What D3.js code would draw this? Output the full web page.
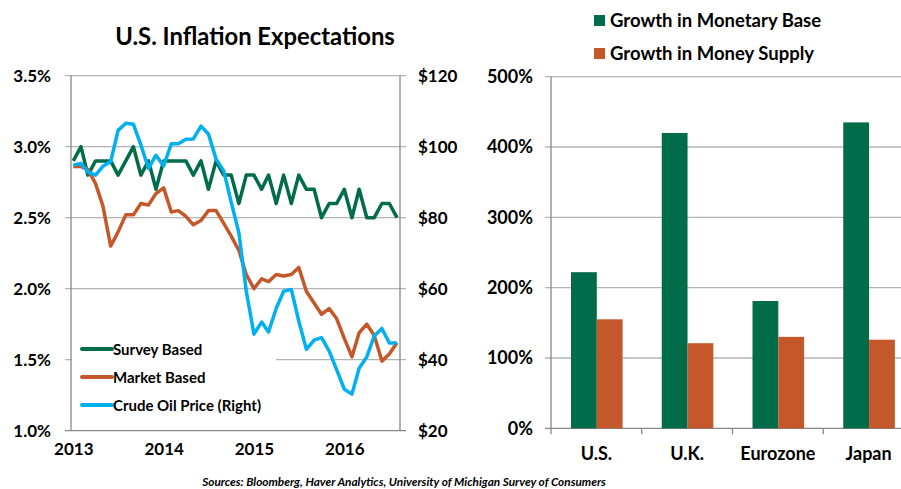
<!DOCTYPE html>
<html>
<head>
<meta charset="utf-8">
<script src="https://cdn.jsdelivr.net/npm/d3@7"></script>
<style>
  body { margin: 0; background: #fff; }
  svg { display: block; font-family: Lato, "Open Sans", sans-serif; font-weight: 700; }
</style>
</head>
<body>
<div id="chart"></div>
<script>
// monthly, Jan 2013 .. Aug 2016
var months = d3.timeMonth.range(new Date(2013, 0, 1), new Date(2016, 8, 1));

var surveyBased = [2.9, 3.0, 2.8, 2.9, 2.9, 2.9, 2.8, 2.9, 3.0, 2.8, 2.9, 2.7,
                   2.9, 2.9, 2.9, 2.9, 2.8, 2.9, 2.7, 2.9, 2.8, 2.8, 2.6, 2.8,
                   2.8, 2.7, 2.8, 2.6, 2.8, 2.6, 2.8, 2.7, 2.7, 2.5, 2.6, 2.6,
                   2.7, 2.5, 2.7, 2.5, 2.5, 2.6, 2.6, 2.5];

var marketBased = [2.86, 2.86, 2.84, 2.74, 2.58, 2.30, 2.40, 2.52, 2.52, 2.60, 2.59, 2.67,
                   2.71, 2.54, 2.55, 2.51, 2.45, 2.48, 2.55, 2.55, 2.46, 2.37, 2.27, 2.10,
                   2.00, 2.07, 2.05, 2.10, 2.09, 2.10, 2.15, 1.98, 1.90, 1.82, 1.86, 1.79,
                   1.65, 1.52, 1.69, 1.75, 1.67, 1.49, 1.54, 1.62];

var crudeOil = [94.8, 95.3, 92.9, 92.0, 94.5, 95.8, 104.6, 106.6, 106.3, 100.5, 93.9, 97.6,
                94.6, 100.8, 100.8, 102.1, 102.2, 105.8, 103.6, 96.5, 93.2, 84.4, 75.8, 59.3,
                47.2, 50.6, 47.8, 54.5, 59.3, 59.8, 50.9, 42.9, 45.5, 46.2, 42.4, 37.2,
                31.7, 30.3, 37.6, 40.8, 46.7, 48.8, 44.7, 44.7];

var leftTicks = [1.0, 1.5, 2.0, 2.5, 3.0, 3.5];
var rightTicks = [20, 40, 60, 80, 100, 120];
var yearTicks = [new Date(2013, 0, 1), new Date(2014, 0, 1), new Date(2015, 0, 1), new Date(2016, 0, 1)];

var countries = ["U.S.", "U.K.", "Eurozone", "Japan"];
var monetaryBase = [222, 420, 181, 435];
var moneySupply = [155, 121, 130, 126];
var barTicks = [0, 100, 200, 300, 400, 500];

var green = "#006C49", orange = "#C5582A", blue = "#00B0F0";
var gridColor = "#b4b4b4", axisColor = "#878787";

var svg = d3.select("#chart").append("svg").attr("width", 901).attr("height", 489);

// ---------- left chart ----------
var plotL = {left: 71, right: 400, top: 75.7, bottom: 430.7};

var x = d3.scaleTime()
    .domain([months[0], months[months.length - 1]])
    .range([73.3, 397]);
var yL = d3.scaleLinear().domain([1.0, 3.5]).range([plotL.bottom, plotL.top]);
var yR = d3.scaleLinear().domain([20, 120]).range([plotL.bottom, plotL.top]);

var left = svg.append("g");

left.append("text")
    .attr("x", 255).attr("y", 45)
    .attr("text-anchor", "middle")
    .style("font-size", "23.8px")
    .text("U.S. Inflation Expectations");

// gridlines
left.selectAll(".grid").data(leftTicks).enter().append("line")
    .attr("x1", plotL.left - 6).attr("x2", plotL.right + 6)
    .attr("y1", function(d) { return yL(d); })
    .attr("y2", function(d) { return yL(d); })
    .attr("stroke", function(d) { return d == 1.0 ? axisColor : gridColor; })
    .attr("stroke-width", 1.3);

left.append("line")
    .attr("x1", plotL.left).attr("x2", plotL.left)
    .attr("y1", plotL.top).attr("y2", plotL.bottom)
    .attr("stroke", axisColor).attr("stroke-width", 1.3);
left.append("line")
    .attr("x1", plotL.right).attr("x2", plotL.right)
    .attr("y1", plotL.top).attr("y2", plotL.bottom)
    .attr("stroke", axisColor).attr("stroke-width", 1.3);

// axis labels
var axisL = left.append("g")
    .attr("transform", "translate(" + (plotL.left - 6) + ",0)")
    .call(d3.axisLeft(yL).tickValues(leftTicks).tickSize(0).tickPadding(14)
        .tickFormat(function(d) { return d.toFixed(1) + "%"; }));
var axisR = left.append("g")
    .attr("transform", "translate(" + (plotL.right + 6) + ",0)")
    .call(d3.axisRight(yR).tickValues(rightTicks).tickSize(0).tickPadding(12)
        .tickFormat(function(d) { return "$" + d; }));
var axisX = left.append("g")
    .attr("transform", "translate(0," + plotL.bottom + ")")
    .call(d3.axisBottom(x).tickValues(yearTicks).tickSize(0).tickPadding(12)
        .tickFormat(d3.timeFormat("%Y")));

[axisL, axisR, axisX].forEach(function(a) {
  a.select(".domain").remove();
  a.selectAll("text").style("font-family", "Lato, sans-serif").style("font-weight", 700)
      .style("font-size", "17px").attr("fill", "#000");
});

// legend box (covers gridline)
left.append("rect")
    .attr("x", plotL.left + 1).attr("y", 328)
    .attr("width", 204).attr("height", 92)
    .attr("fill", "#fff");

var line = function(yScale) {
  return d3.line()
      .x(function(d, i) { return x(months[i]); })
      .y(function(d) { return yScale(d); });
};

left.append("path").datum(surveyBased)
    .attr("d", line(yL)).attr("fill", "none")
    .attr("stroke", green).attr("stroke-width", 3.5).attr("stroke-linejoin", "round");
left.append("path").datum(marketBased)
    .attr("d", line(yL)).attr("fill", "none")
    .attr("stroke", orange).attr("stroke-width", 3.5).attr("stroke-linejoin", "round");
left.append("path").datum(crudeOil)
    .attr("d", line(yR)).attr("fill", "none")
    .attr("stroke", blue).attr("stroke-width", 3.5).attr("stroke-linejoin", "round");

var legendItems = [
  {label: "Survey Based", color: green},
  {label: "Market Based", color: orange},
  {label: "Crude Oil Price (Right)", color: blue}
];
var leg = left.selectAll(".leg").data(legendItems).enter().append("g")
    .attr("transform", function(d, i) { return "translate(82," + (349 + i * 28) + ")"; });
leg.append("line")
    .attr("x1", 0).attr("x2", 30).attr("y1", 0).attr("y2", 0)
    .attr("stroke", function(d) { return d.color; })
    .attr("stroke-width", 4).attr("stroke-linecap", "round");
leg.append("text")
    .attr("x", 31).attr("y", 5.5)
    .style("font-size", "15px")
    .text(function(d) { return d.label; });

// ---------- right chart ----------
var plotB = {left: 551, right: 914, top: 76.7, bottom: 428.3};

var xB = d3.scaleBand().domain(countries).range([plotB.left, plotB.right]);
var xS = d3.scaleBand().domain(["base", "supply"]).range([20, 71.6]);
var yB = d3.scaleLinear().domain([0, 500]).range([plotB.bottom, plotB.top]);

var right = svg.append("g");

right.selectAll(".grid").data(barTicks).enter().append("line")
    .attr("x1", plotB.left - 6).attr("x2", 901)
    .attr("y1", function(d) { return yB(d); })
    .attr("y2", function(d) { return yB(d); })
    .attr("stroke", function(d) { return d == 0 ? axisColor : gridColor; })
    .attr("stroke-width", 1.3);
right.append("line")
    .attr("x1", plotB.left).attr("x2", plotB.left)
    .attr("y1", plotB.top).attr("y2", plotB.bottom + 6)
    .attr("stroke", axisColor).attr("stroke-width", 1.3);
right.selectAll(".ctick").data(countries.slice(1)).enter().append("line")
    .attr("x1", function(d) { return xB(d); })
    .attr("x2", function(d) { return xB(d); })
    .attr("y1", plotB.bottom).attr("y2", plotB.bottom + 6)
    .attr("stroke", axisColor).attr("stroke-width", 1.3);

var groups = right.selectAll(".country").data(countries).enter().append("g")
    .attr("transform", function(d) { return "translate(" + xB(d) + ",0)"; });
groups.append("rect")
    .attr("x", xS("base")).attr("width", xS.bandwidth())
    .attr("y", function(d, i) { return yB(monetaryBase[i]); })
    .attr("height", function(d, i) { return yB(0) - yB(monetaryBase[i]); })
    .attr("fill", green);
groups.append("rect")
    .attr("x", xS("supply")).attr("width", xS.bandwidth())
    .attr("y", function(d, i) { return yB(moneySupply[i]); })
    .attr("height", function(d, i) { return yB(0) - yB(moneySupply[i]); })
    .attr("fill", orange);

var axisB = right.append("g")
    .attr("transform", "translate(" + (plotB.left - 6) + ",0)")
    .call(d3.axisLeft(yB).tickValues(barTicks).tickSize(0).tickPadding(12)
        .tickFormat(function(d) { return d + "%"; }));
var axisC = right.append("g")
    .attr("transform", "translate(0," + plotB.bottom + ")")
    .call(d3.axisBottom(xB).tickSize(0).tickPadding(19));
[axisB, axisC].forEach(function(a) {
  a.select(".domain").remove();
  a.selectAll("text").style("font-family", "Lato, sans-serif").style("font-weight", 700)
      .style("font-size", "18px").attr("fill", "#000");
});

var barLegend = [
  {label: "Growth in Monetary Base", color: green},
  {label: "Growth in Money Supply", color: orange}
];
var bl = right.selectAll(".bleg").data(barLegend).enter().append("g")
    .attr("transform", function(d, i) { return "translate(594," + (15 + i * 33) + ")"; });
bl.append("rect").attr("width", 11).attr("height", 11)
    .attr("fill", function(d) { return d.color; });
bl.append("text").attr("x", 16).attr("y", 11.5)
    .style("font-size", "18.5px")
    .text(function(d) { return d.label; });

// source
svg.append("text")
    .attr("x", 404).attr("y", 486)
    .attr("text-anchor", "middle")
    .style("font-size", "11.8px").style("font-style", "italic")
    .text("Sources: Bloomberg, Haver Analytics, University of Michigan Survey of Consumers");
</script>
</body>
</html>
